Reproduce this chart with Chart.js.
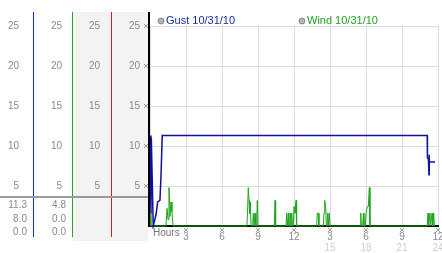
<!DOCTYPE html>
<html>
<head>
<meta charset="utf-8">
<script src="https://cdn.jsdelivr.net/npm/chart.js@4/dist/chart.umd.min.js"></script>
<style>
  html, body { margin: 0; padding: 0; background: #fff; }
  #wrap { width: 442px; height: 253px; position: relative; }
</style>
</head>
<body>
<div id="wrap"><canvas id="wind-chart"></canvas></div>
<script>
// gust readings, [hour, mph]
const gustData = [
  [0, 11.3], [0.08, 1.6], [0.11, 11.0], [0.27, 0], [0.33, 0], [0.5, 1.4],
  [0.64, 3.0], [0.83, 3.2], [0.92, 6.4], [1.02, 11.3],
  [23.1, 11.3], [23.12, 8.5], [23.2, 8.4], [23.25, 6.4], [23.26, 8.9],
  [23.28, 8.0], [23.75, 8.0]
]
// wind readings, [hour, mph]
const windData = [
  [0, 1.7], [0.08, 0],
  [1.33, 0], [1.42, 2.2], [1.5, 0.8], [1.58, 4.8], [1.62, 3.7], [1.67, 1.2], [1.75, 3.0], [1.83, 1.8], [1.92, 0],
  [8.08, 0], [8.14, 2.4], [8.19, 4.8], [8.25, 3.2], [8.3, 1.5], [8.36, 3.0], [8.42, 0],
  [8.55, 0], [8.61, 1.6], [8.67, 0], [8.75, 1.6], [8.81, 0], [8.89, 0], [8.94, 3.2], [9.0, 0],
  [10.36, 0], [10.42, 3.2], [10.47, 0],
  [11.33, 0], [11.39, 1.6], [11.44, 0], [11.53, 1.6], [11.58, 0], [11.67, 0], [11.72, 1.6], [11.78, 0],
  [11.81, 1.6], [11.86, 0], [11.94, 0], [12.0, 2.4], [12.08, 1.6], [12.17, 3.2], [12.22, 0],
  [13.89, 0], [13.94, 1.6], [14.03, 1.6], [14.08, 0],
  [14.44, 0], [14.5, 1.6], [14.56, 3.2], [14.64, 2.4], [14.7, 0], [14.78, 0], [14.81, 1.6], [14.86, 0],
  [14.94, 1.6], [15.0, 0],
  [17.5, 0], [17.56, 1.6], [17.61, 0], [17.72, 0], [17.78, 1.6], [17.83, 0], [17.94, 0], [18.0, 1.6],
  [18.11, 2.4], [18.19, 2.4], [18.28, 4.8], [18.33, 0],
  [23.1, 0], [23.17, 1.6], [23.22, 0], [23.33, 1.6], [23.39, 0], [23.5, 1.6], [23.56, 0], [23.64, 1.6], [23.7, 0]
]

const seriesLabels = ["Gust 10/31/10", "Wind 10/31/10"]
const gustStats = ["11.3", "8.0", "0.0"]   // max, now, min
const windStats = ["4.8", "0.0", "0.0"]
const yMax = 25
const hourStep = 3

const font = { family: "'Liberation Sans', Arial, sans-serif", size: 10 }

// left side columns, outermost first
const cols = [
  { id: "y1", w: 33, pad: 14, line: "#0a30e0" },
  { id: "y2", w: 39, pad: 10, line: "#1eaa1e" },
  { id: "y3", w: 39, pad: 11, line: "#e01818" },
  { id: "y4", w: 39, pad: 10, line: "#000" }
]

function dotMark(ctx, x, y) {
  ctx.fillStyle = "#9a9a9a"
  const pts = [[-2, -2], [1, -2], [-1, -1], [0, 0], [-2, 1], [1, 1], [0, -1], [-1, 0]]
  pts.forEach(p => ctx.fillRect(x + p[0], y + p[1], 1, 1))
}

const panelPlugin = {
  id: "panel",
  beforeDraw(chart) {
    const ctx = chart.ctx
    ctx.save()
    ctx.fillStyle = "#fff"
    ctx.fillRect(0, 0, chart.width, chart.height)
    ctx.fillStyle = "#f3f3f3"
    ctx.fillRect(73, 12, 75, 229)
    ctx.restore()
  },
  afterDraw(chart) {
    const ctx = chart.ctx
    const area = chart.chartArea
    ctx.save()

    // column rules
    let x = 0
    cols.forEach((c, i) => {
      x += c.w
      ctx.fillStyle = c.line
      if (i === 3) ctx.fillRect(x - 2, 12, 2, area.bottom + 1 - 12)
      else ctx.fillRect(x, 12, 1, 225)
    })

    // separator above summary values
    ctx.fillStyle = "#9a9a9a"
    ctx.fillRect(0, 196, 148, 2)

    ctx.font = "10px 'Liberation Sans', Arial, sans-serif"
    ctx.fillStyle = "#8a8a8a"
    ctx.textAlign = "right"
    ctx.textBaseline = "middle"
    const rows = [205, 219, 232]
    gustStats.forEach((s, i) => ctx.fillText(s, 27, rows[i]))
    windStats.forEach((s, i) => ctx.fillText(s, 66, rows[i]))

    // small tick marks on the inner y axis and the hour axis
    const ys = chart.scales.y4
    for (let v = 5; v <= yMax; v += 5) dotMark(ctx, 146, Math.round(ys.getPixelForValue(v)))
    const xs = chart.scales.x
    for (let h = hourStep; h <= 24; h += hourStep) dotMark(ctx, Math.round(xs.getPixelForValue(h)), 230)

    ctx.textAlign = "left"
    ctx.fillStyle = "#777"
    ctx.fillText("Hours", 153, 233)

    // legend
    ctx.font = "11px 'Liberation Sans', Arial, sans-serif"
    const legendX = [161, 302]
    const textCol = ["#1b2b9b", "#22a022"]
    seriesLabels.forEach((lab, i) => {
      ctx.beginPath()
      ctx.arc(legendX[i], 21, 3, 0, Math.PI * 2)
      ctx.fillStyle = "#b4b4b4"
      ctx.fill()
      ctx.strokeStyle = "#8a8a8a"
      ctx.lineWidth = 1
      ctx.stroke()
      ctx.fillStyle = textCol[i]
      ctx.fillText(lab, legendX[i] + 5, 21)
    })
    ctx.restore()
  }
}

const scales = {
  x: {
    type: "linear", position: "bottom", min: 0, max: 24, weight: 1,
    ticks: {
      stepSize: hourStep, autoSkip: false, maxRotation: 0, padding: 5, color: "#8a8a8a", font,
      callback: v => v === 0 ? "" : (v > 12 ? v - 12 : v)
    },
    grid: { color: "#dcdcdc", drawTicks: false },
    border: { color: "#000", width: 2 },
    afterFit: s => { s.height = 16; s.paddingLeft = 0; s.paddingRight = 0 }
  },
  x2: {
    type: "linear", position: "bottom", min: 0, max: 24, weight: 2,
    ticks: {
      stepSize: hourStep, autoSkip: false, maxRotation: 0, padding: 0, color: "#cfcfcf", font,
      callback: v => v > 12 ? v : ""
    },
    grid: { display: false, drawTicks: false },
    border: { display: false },
    afterFit: s => { s.height = 11; s.paddingLeft = 0; s.paddingRight = 0 }
  }
}
cols.forEach((c, i) => {
  scales[c.id] = {
    type: "linear", position: "left", min: 0, max: yMax, weight: cols.length - i,
    ticks: { stepSize: 5, padding: c.pad, color: "#8a8a8a", font, callback: v => v === 0 ? "" : v },
    grid: { display: c.id === "y4", color: "#dcdcdc", drawTicks: false },
    border: { display: false },
    afterFit: s => { s.width = c.w; s.paddingTop = 0; s.paddingBottom = 0 }
  }
})

new Chart("wind-chart", {
  type: "line",
  data: {
    datasets: [{
      label: seriesLabels[0],
      data: gustData.map(p => ({ x: p[0], y: p[1] })),
      borderColor: "#10109a",
      borderWidth: 1.5,
      pointRadius: 0,
      tension: 0,
      yAxisID: "y4",
      clip: 3
    }, {
      label: seriesLabels[1],
      data: windData.map(p => ({ x: p[0], y: p[1] })),
      borderColor: "#1ea51e",
      borderWidth: 1,
      pointRadius: 0,
      tension: 0,
      yAxisID: "y4",
      clip: 3
    }]
  },
  options: {
    responsive: true,
    maintainAspectRatio: false,
    animation: false,
    layout: { padding: { top: 26, right: 4, left: 0, bottom: 0 } },
    plugins: { legend: { display: false }, tooltip: { enabled: false } },
    scales
  },
  plugins: [panelPlugin]
})
</script>
</body>
</html>
